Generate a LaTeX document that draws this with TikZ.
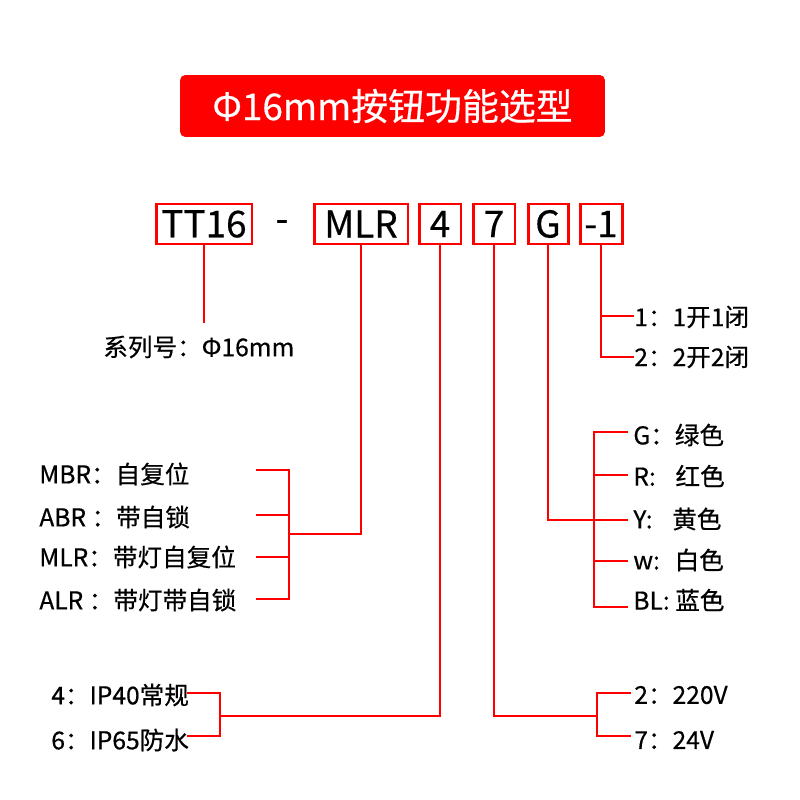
\documentclass[tikz,border=0pt]{standalone}
\usepackage{fontspec}
\newfontfamily\cjk{Noto Sans CJK SC}[FakeBold=0.5]
\usepackage{tikz}
\usetikzlibrary{calc}

\begin{document}
\begin{tikzpicture}[
    x=0.02cm, y=-0.02cm,
    every node/.style={font=\cjk},
    title/.style={rectangle, fill=red, rounded corners=3pt, text=white,
                  minimum width=8.5cm, minimum height=1.24cm,
                  font=\cjk\fontsize{21}{25}\selectfont},
    code/.style={rectangle, draw=red, line width=1.7pt, inner sep=0pt,
                 minimum height=0.8cm, font=\cjk\fontsize{21}{25}\selectfont},
    opt/.style={anchor=west, inner sep=0pt, font=\cjk\fontsize{14}{17}\selectfont},
    link/.style={draw=red, line width=0.8pt}
]
\useasboundingbox (0,0) rectangle (800,800);

% === Title ===
\node[title] (head) at (392.5,106) {Φ16mm按钮功能选型};

% === Model code ===
\node[code, minimum width=1.92cm] (tt) at (204,224) {TT16};
\node[font=\cjk\fontsize{21}{25}\selectfont] (dash) at (282,226) {-};
\node[code, minimum width=1.88cm] (fn) at (361,224) {MLR};
\node[code, minimum width=0.84cm] (prot) at (440,224) {4};
\node[code, minimum width=0.84cm] (volt) at (494,224) {7};
\node[code, minimum width=0.8cm] (col) at (548,224) {G};
\node[code, minimum width=0.84cm] (cont) at (601,224) {-1};

% === Series ===
\node[opt] (ser) at (103,347) {系列号：Φ16mm};
\coordinate (serend) at (204,323);
\draw[link] (tt.south) -- (serend);

% === Function ===
\node[opt] (mbr) at (39,474) {MBR：自复位};
\node[opt] (abr) at (39,517) {ABR ：带自锁};
\node[opt] (mlr) at (39,557) {MLR：带灯自复位};
\node[opt] (alr) at (39,600) {ALR ：带灯带自锁};
\coordinate (fnjoin) at (289,534);
\foreach \n/\y in {a/470,b/515,c/557,d/599}
    \coordinate (fn\n) at (256,\y);
\draw[link] (fn.south) |- (fnjoin);
\foreach \n in {a,b,c,d}
    \draw[link] (fn\n) -| (fnjoin);

% === Contacts ===
\node[opt] (k1) at (634,317) {1：1开1闭};
\node[opt] (k2) at (634,357) {2：2开2闭};
\coordinate (ka) at (634,316);
\coordinate (kb) at (634,357);
\draw[link] (cont.south) |- (kb);
\draw[link] (ka) -- (ka -| cont.south);

% === Colour ===
\node[opt] (cg) at (633,435) {G：绿色};
\node[opt] (cr) at (633,476) {R:\hspace{0.8em}红色};
\node[opt] (cy) at (633,519) {Y:\hspace{0.8em}黄色};
\node[opt] (cw) at (633,560) {w:\hspace{0.6em}白色};
\node[opt] (cb) at (633,600) {BL: 蓝色};
\coordinate (cljoin) at (594,520);
\foreach \n/\y in {g/432,r/475,y/520,w/561,b/607}
    \coordinate (cl\n) at (628,\y);
\draw[link] (col.south) |- (cly);
\foreach \n in {g,r,w,b}
    \draw[link] (cl\n) -| (cljoin);

% === Protection ===
\node[opt] (p4) at (51,695) {4：IP40常规};
\node[opt] (p6) at (51,740) {6：IP65防水};
\coordinate (pjoin) at (220,716);
\coordinate (pa) at (187,693);
\coordinate (pb) at (187,736);
\draw[link] (prot.south) |- (pjoin);
\draw[link] (pa) -| (pjoin);
\draw[link] (pb) -| (pjoin);

% === Voltage ===
\node[opt] (v2) at (634,695) {2：220V};
\node[opt] (v7) at (634,740) {7：24V};
\coordinate (vjoin) at (597,716);
\coordinate (va) at (631,693);
\coordinate (vb) at (631,736);
\draw[link] (volt.south) |- (vjoin);
\draw[link] (va) -| (vjoin);
\draw[link] (vb) -| (vjoin);

\end{tikzpicture}
\end{document}
